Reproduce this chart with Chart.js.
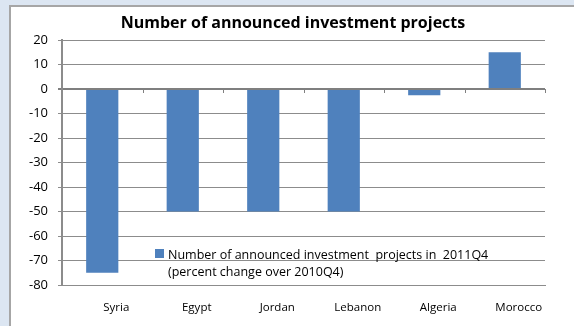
<!DOCTYPE html>
<html>
<head>
<meta charset="utf-8">
<script src="https://cdn.jsdelivr.net/npm/chart.js@4/dist/chart.umd.min.js"></script>
<style>
  html, body { margin: 0; padding: 0; background: #dce6f2; }
  #wrap { position: relative; width: 574px; height: 326px; overflow: hidden; }
  #box { position: absolute; left: 9px; top: 5px; right: -5px; bottom: -5px;
         background: #fff; border-left: 2px solid #a6a6a6; border-top: 2px solid #a6a6a6; }
  #c { position: absolute; left: 0; top: 0; }
</style>
</head>
<body>
<div id="wrap">
  <div id="box"></div>
  <canvas id="c" width="574" height="326"></canvas>
</div>
<script>
// announced investment projects, % change 2011Q4 over 2010Q4
var countries = ['Syria', 'Egypt', 'Jordan', 'Lebanon', 'Algeria', 'Morocco'];
var changes = [-75, -50, -50, -50, -2.5, 15];
var yTicks = [20, 10, 0, -10, -20, -30, -40, -50, -60, -70, -80];

var chartTitle = 'Number of announced investment projects';
var legendLines = ['Number of announced investment  projects in  2011Q4', '(percent change over 2010Q4)'];

var FONT = '"Open Sans", "Liberation Sans", sans-serif';
var BLUE = '#4f81bd';

// title, legend box and the small ticks on the zero line
var extras = {
  id: 'extras',
  afterDraw: function(chart) {
    var ctx = chart.ctx, a = chart.chartArea;
    var xs = chart.scales.x, ys = chart.scales.y;
    ctx.save();

    ctx.fillStyle = '#000';
    ctx.font = 'bold 16px ' + FONT;
    ctx.textAlign = 'center';
    ctx.textBaseline = 'middle';
    ctx.fillText(chartTitle, 293, 23);

    // category boundary ticks hang off the zero line
    var y0 = ys.getPixelForValue(0);
    var step = xs.getPixelForValue(1) - xs.getPixelForValue(0);
    ctx.strokeStyle = '#808080';
    ctx.lineWidth = 1;
    for (var i = 1; i <= countries.length; i++) {
      var x = Math.round(xs.getPixelForValue(i - 1) + step / 2) + 0.5;
      ctx.beginPath();
      ctx.moveTo(x, y0);
      ctx.lineTo(x, y0 + 4);
      ctx.stroke();
    }

    var lx = a.left + 93, ly = a.top + 209;
    ctx.fillStyle = BLUE;
    ctx.fillRect(lx, ly, 9, 9);
    ctx.fillStyle = '#000';
    ctx.font = '12.5px ' + FONT;
    ctx.textAlign = 'left';
    ctx.textBaseline = 'middle';
    ctx.fillText(legendLines[0], lx + 13, ly + 6);
    ctx.fillText(legendLines[1], lx + 13, ly + 23);
    ctx.restore();
  }
};

new Chart(document.getElementById('c'), {
  type: 'bar',
  data: {
    labels: countries,
    datasets: [{
      label: legendLines.join(' '),
      data: changes,
      backgroundColor: BLUE,
      borderWidth: 0,
      barPercentage: 0.4,
      categoryPercentage: 1
    }]
  },
  options: {
    responsive: false,
    animation: false,
    layout: { padding: { left: 0, top: 40, right: 29, bottom: 0 } },
    plugins: { legend: { display: false }, title: { display: false }, tooltip: { enabled: false } },
    scales: {
      x: {
        grid: { display: false },
        border: { display: true, color: '#8c8c8c', width: 1 },
        ticks: { color: '#000', font: { family: FONT, size: 11.5 }, padding: 8, labelOffset: 14, maxRotation: 0 },
        afterFit: function(s) { s.height = 41; }
      },
      y: {
        min: -80, max: 20,
        afterBuildTicks: function(s) { s.ticks = yTicks.map(function(v) { return { value: v }; }); },
        grid: {
          color: function(c) { return c.tick && c.tick.value === 0 ? '#7f7f7f' : '#8c8c8c'; },
          lineWidth: function(c) { return c.tick && c.tick.value === 0 ? 2 : 1; },
          tickLength: 4
        },
        border: { color: '#8c8c8c', width: 2 },
        ticks: { color: '#000', font: { family: FONT, size: 13 }, padding: 10 },
        afterFit: function(s) { s.width = 62; }
      }
    }
  },
  plugins: [extras]
});
</script>
</body>
</html>
